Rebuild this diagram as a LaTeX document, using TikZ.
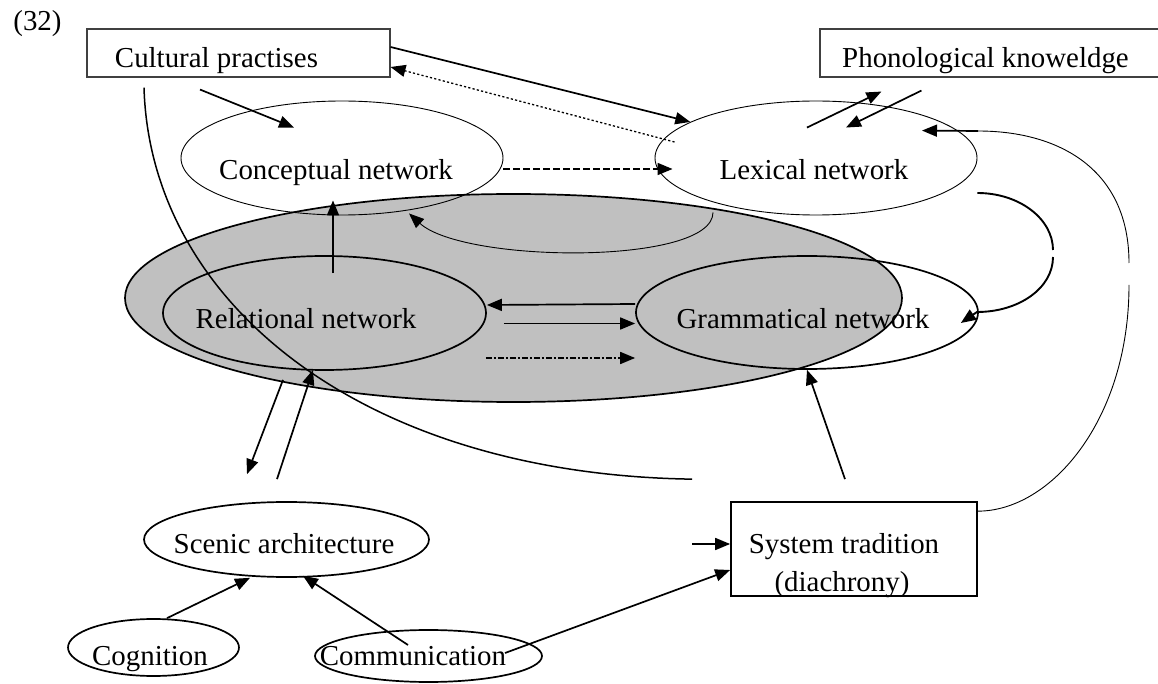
\documentclass[tikz,border=0pt]{standalone}
\usepackage{fontspec}
\setmainfont{Liberation Serif}
\usetikzlibrary{arrows.meta,shapes.geometric}
\definecolor{grayfill}{HTML}{C0C0C0}
\definecolor{boxline}{HTML}{404040}
\begin{document}
\begin{tikzpicture}[x=0.5pt,y=-0.5pt,
  font=\fontsize{14.45}{17}\selectfont,
  ell/.style={draw,shape=ellipse,inner sep=0pt,line width=0.85pt},
  thinell/.style={draw,shape=ellipse,inner sep=0pt,line width=0.45pt},
  box/.style={draw=boxline,rectangle,inner sep=0pt,line width=0.55pt},
  sbox/.style={draw,rectangle,inner sep=0pt,line width=0.85pt},
  lbl/.style={anchor=base,inner sep=0pt},
  tip/.style={-{Triangle[length=7.5pt,width=6pt]}},
  arr/.style={line width=0.85pt,tip},
  thinline/.style={line width=0.45pt},
  midline/.style={line width=0.75pt}
]
\useasboundingbox (0,0) rectangle (1158,684);

% shapes
\node[ell, fill=grayfill, minimum width=388.5pt, minimum height=104pt] (gry) at (513.5,298) {};
\node[thinell, minimum width=161pt, minimum height=57pt] (cn) at (342,158) {};
\node[thinell, minimum width=161pt, minimum height=57pt] (lx) at (816,158) {};
\node[ell, minimum width=161.5pt, minimum height=57pt] (rl) at (324.5,313) {};
\node[ell, minimum width=171pt, minimum height=56.5pt] (gm) at (807,312.5) {};
\node[ell, minimum width=142.5pt, minimum height=37.5pt] (sc) at (286.5,539.5) {};
\node[ell, minimum width=85.5pt, minimum height=28.5pt] (cg) at (153.5,647.5) {};
\node[ell, minimum width=113.5pt, minimum height=26pt] (cm) at (428.5,656) {};
\node[box, minimum width=151.5pt, minimum height=24pt] (cp) at (238.5,53) {};
\node[box, minimum width=170pt, minimum height=24pt] (ph) at (990,53) {};
\node[sbox, minimum width=123pt, minimum height=47pt] (st) at (854,549) {};

% labels
\node[lbl] (t32) at (37.5,31) {(32)};
\node[lbl] (tcp) at (216.5,68) {Cultural practises};
\node[lbl] (tph) at (985.5,68) {Phonological knoweldge};
\node[lbl] (tcn) at (336,180) {Conceptual network};
\node[lbl] (tlx) at (814,180) {Lexical network};
\node[lbl] (trl) at (306,329) {Relational network};
\node[lbl] (tgm) at (803,329) {Grammatical network};
\node[lbl] (tsc) at (284,553) {Scenic architecture};
\node[lbl] (tcg) at (150,665) {Cognition};
\node[lbl] (tcm) at (413,665) {Communication};
\node[lbl] (tst1) at (844,553) {System tradition};
\node[lbl] (tst2) at (842,591) {(diachrony)};

% connectors at the top
\draw[arr] ([yshift=3pt]cp.east) -- (lx.164);
\draw[line width=0.65pt, dash pattern=on 1.1pt off 1.1pt, tip]
  ([xshift=10pt,yshift=8pt]lx.west) -- ([yshift=-7pt]cp.east);
\draw[arr] ([xshift=-19.25pt,yshift=-6pt]cp.south) -- ([xshift=-24pt,yshift=-13.5pt]cn.north);
\draw[arr, dash pattern=on 3.5pt off 1.5pt] ([yshift=-5.5pt]cn.east) -- ([xshift=9pt,yshift=-5.5pt]lx.west);
\draw[arr] ([xshift=-4.5pt,yshift=-13.5pt]lx.north) -- ([xshift=31pt,yshift=-7pt]ph.south west);
\draw[arr] ([xshift=51pt,yshift=-6.5pt]ph.south west) -- ([xshift=15pt,yshift=-13.5pt]lx.north);

% relational -> conceptual
\draw[arr] ([xshift=4.25pt,yshift=-9pt]rl.north) -- ([xshift=-4.5pt,yshift=7.5pt]cn.south);
% inner arc lexical -> conceptual
\draw[thinline, tip] ([xshift=-51.5pt,yshift=1.5pt]lx.south)
  .. controls +(0,53) and +(55,50) .. ([xshift=33.5pt,yshift=1pt]cn.south);

% relational <-> grammatical
\draw[arr] ([yshift=4.25pt]gm.west) -- ([yshift=4pt]rl.east);
\draw[arr] ([xshift=8.5pt,yshift=-5.25pt]rl.east) -- ([yshift=-5.5pt]gm.west);
\draw[arr, dash pattern=on 3pt off 1pt on 1pt off 1pt]
  ([xshift=-0.5pt,yshift=-22.5pt]rl.east) -- ([yshift=-22.75pt]gm.west);

% lexical -> grammatical (right arc)
\coordinate (g1) at (1053,250);
\coordinate (g2) at (1053,257);
\draw[line width=0.95pt] ([yshift=-17.5pt]lx.east) .. controls +(42,0) and +(0,-31) .. (g1);
\draw[arr, line width=0.95pt] (g2) .. controls +(0,31) and +(42,0) .. (977,312) -- ([xshift=-9pt,yshift=-5.25pt]gm.east);

% system tradition -> lexical (big right curve)
\coordinate (h1) at (1129,285);
\coordinate (h2) at (1129,263);
\coordinate (h3) at (978,131);
\draw[thinline] ([yshift=-5pt]st.north east) .. controls +(73,0) and +(0,135) .. (h1);
\draw[thinline] (h2) .. controls +(0,-93) and +(82,0) .. (h3);
\draw[arr] (h3) -- ([xshift=53pt,yshift=-15pt]lx.north);

% long curve from cultural practises
\draw[midline] ([xshift=-47.25pt,yshift=-5pt]cp.south)
  .. controls +(6,213) and +(-333,-5) .. ([xshift=-19pt,yshift=11pt]st.north west);

% grammatical <- system tradition
\draw[arr] ([xshift=-4.5pt,yshift=11pt]st.north) -- (gm.south);
\draw[arr] ([xshift=-19pt,yshift=2.5pt]st.west) -- ([yshift=2.5pt]st.west);
\draw[arr] ([xshift=38.25pt,yshift=1.5pt]cm.center) -- ([yshift=-10.5pt]st.west);

% scenic architecture
\draw[arr] ([xshift=6.75pt]cg.north) -- ([xshift=-18.25pt]sc.south);
\draw[arr] ([xshift=-10.25pt,yshift=5.5pt]cm.center) -- ([xshift=8.25pt,yshift=1pt]sc.south);
\draw[arr] ([xshift=-115.25pt,yshift=11.5pt]gry.south) -- ([xshift=-19.75pt,yshift=13.5pt]sc.north);
\draw[arr] ([xshift=-4.75pt,yshift=11pt]sc.north) -- ([xshift=-5.75pt,yshift=0.5pt]rl.south);
\end{tikzpicture}
\end{document}
